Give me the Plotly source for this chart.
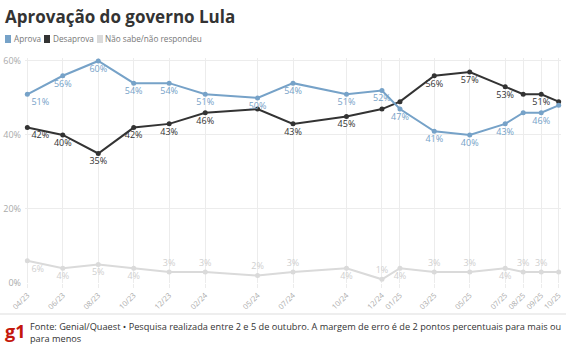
import plotly.graph_objects as go

dates = ["2023-04-01", "2023-06-01", "2023-08-01", "2023-10-01", "2023-12-01", "2024-02-01",
         "2024-05-01", "2024-07-01", "2024-10-01", "2024-12-01", "2025-01-01", "2025-03-01",
         "2025-05-01", "2025-07-01", "2025-08-01", "2025-09-01", "2025-10-01"]
tick_labels = ["04/23", "06/23", "08/23", "10/23", "12/23", "02/24", "05/24", "07/24", "10/24",
               "12/24", "01/25", "03/25", "05/25", "07/25", "08/25", "09/25", "10/25"]

aprova = [51, 56, 60, 54, 54, 51, 50, 54, 51, 52, 47, 41, 40, 43, 46, 46, 48]
desaprova = [42, 40, 35, 42, 43, 46, 47, 43, 45, 47, 49, 56, 57, 53, 51, 51, 49]
nao_sabe = [6, 4, 5, 4, 3, 3, 2, 3, 4, 1, 4, 3, 3, 4, 3, 3, 3]

series_names = ["Aprova", "Desaprova", "Não sabe/não respondeu"]
colors = ["#76a2c8", "#333333", "#dadada"]
label_colors = ["#76a2c8", "#333333", "#cfcfcf"]

# which labels are shown (others hidden, as in the source chart)
show_aprova = [1] * 14 + [0, 1, 0]
show_desaprova = [1, 1, 1, 1, 1, 1, 0, 1, 1, 0, 0, 1, 1, 1, 0, 1, 0]
show_nao = [1] * 16 + [0]

pos_aprova = ["bottom right"] + ["bottom center"] * 16
pos_desaprova = ["bottom right"] + ["bottom center"] * 16
pos_nao = ["bottom right", "bottom center", "bottom center", "bottom center", "top center",
           "top center", "top center", "top center", "bottom center", "top center",
           "bottom center", "top center", "top center", "bottom center", "top center",
           "top center", "top center"]

FONT = "Open Sans"
W, H = 576, 352
ML, MR, MT, MB = 25, 15, 58, 69
PW, PH = W - ML - MR, H - MT - MB


def px(x):
    return (x - ML) / PW


def py(y):
    return (H - MB - y) / PH


fig = go.Figure()
for vals, show, pos, name, col, lcol in [
    (aprova, show_aprova, pos_aprova, series_names[0], colors[0], label_colors[0]),
    (desaprova, show_desaprova, pos_desaprova, series_names[1], colors[1], label_colors[1]),
    (nao_sabe, show_nao, pos_nao, series_names[2], colors[2], label_colors[2]),
][::-1]:
    fig.add_trace(go.Scatter(
        x=dates, y=vals, mode="lines+markers+text", name=name,
        line=dict(color=col, width=2), marker=dict(color=col, size=5),
        text=[f"{v}%" if s else "" for v, s in zip(vals, show)],
        textposition=pos, textfont=dict(family=FONT, size=9, color=lcol),
        cliponaxis=False, showlegend=False, hoverinfo="skip"))

fig.update_layout(
    width=W, height=H, autosize=False,
    margin=dict(l=ML, r=MR, t=MT, b=MB, autoexpand=False),
    plot_bgcolor="white", paper_bgcolor="white",
    font=dict(family=FONT, color="#333333"),
    title=dict(text="<b>Aprovação do governo Lula</b>", x=5 / W, xanchor="left", xref="container",
               y=1 - 17 / H, yanchor="middle", yref="container",
               font=dict(family=FONT, size=17, color="#333333")),
    xaxis=dict(type="date", range=["2023-03-28", "2025-10-05"], tickvals=dates,
               ticktext=tick_labels, tickangle=-45, showgrid=True, gridcolor="#ececec",
               gridwidth=1, ticks="outside", ticklen=4, tickcolor="#ececec", showline=False,
               zeroline=False, automargin=False,
               tickfont=dict(family=FONT, size=7.5, color="#aaaaaa")),
    yaxis=dict(range=[0, 60.8], tickvals=[0, 20, 40, 60], ticktext=["0%", "20%", "40%", "60%"],
               showgrid=True, gridcolor="#ececec", gridwidth=1, zeroline=False, showline=False,
               automargin=False,
               tickfont=dict(family=FONT, size=9, color="#aaaaaa"), ticklabelstandoff=3),
)

shapes = []
annotations = []
# legend
leg_sq = [5, 44, 97]
leg_tx = [13, 52, 104]
for lx, tx, name, col in zip(leg_sq, leg_tx, series_names, colors):
    shapes.append(dict(type="rect", xref="paper", yref="paper",
                       x0=px(lx), x1=px(lx + 6),
                       y0=py(43), y1=py(35),
                       fillcolor=col, line=dict(width=0)))
    annotations.append(dict(xref="paper", yref="paper", x=px(tx),
                            y=py(39), text=name, showarrow=False,
                            xanchor="left", yanchor="middle", borderpad=0,
                            font=dict(family=FONT, size=8.2, color="#777777")))
# footer line
shapes.append(dict(type="line", xref="paper", yref="paper", x0=px(0), x1=px(566),
                   y0=py(314), y1=py(314),
                   line=dict(color="#dddddd", width=1)))
annotations.append(dict(xref="paper", yref="paper", x=px(4), y=py(331),
                        text="<b>g1</b>", showarrow=False, xanchor="left", yanchor="middle",
                        borderpad=0,
                        font=dict(family=FONT, size=18, color="#c4170c")))
annotations.append(dict(xref="paper", yref="paper", x=px(29), y=py(319),
                        text="Fonte: Genial/Quaest • Pesquisa realizada entre 2 e 5 de outubro. A margem de erro é de 2 pontos percentuais para mais ou<br>para menos",
                        showarrow=False, xanchor="left", yanchor="top", align="left",
                        borderpad=0,
                        font=dict(family=FONT, size=9.2, color="#333333")))

fig.update_layout(shapes=shapes, annotations=annotations)
fig.write_html("out.html")
